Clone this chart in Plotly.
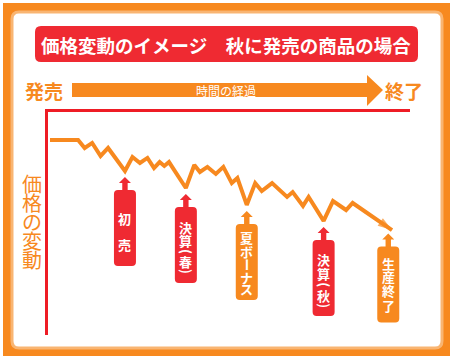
import numpy as np
import plotly.graph_objects as go

W, H = 454, 361

# ---------------- data ----------------
# time since launch (days) and price index (launch price = 100)
days = [0, 30, 37, 45, 54, 62, 80, 88, 96, 104, 111, 117, 122, 127, 145, 154, 160,
        168, 177, 185, 194, 200, 210, 219, 226, 237, 253, 259, 270, 276, 292, 302,
        316, 323, 365]
price = [100, 100, 95.9, 98.5, 91.8, 95.9, 84.1, 91.3, 88.2, 90.8, 85.6, 88.7, 86.7,
         88.7, 75.4, 87.2, 83.6, 86.2, 82.6, 86.2, 77.9, 80.5, 66.7, 77.9, 73.8, 77.9,
         70.8, 73.3, 66.2, 70.8, 58.5, 68.7, 64.1, 67.7, 53.8]

event_labels = ["初売", "決算(春)", "夏ボーナス", "決算(秋)", "生産終了"]
event_days = [80, 145, 210, 292, 361]
event_colors = ["red", "red", "orange", "red", "orange"]

title_text = "価格変動のイメージ　秋に発売の商品の場合"
start_label = "発売"
end_label = "終了"
time_label = "時間の経過"
price_label = "価格の変動"

# ---------------- styles ----------------
ORANGE = "#F7891F"
RED = "#EF2A32"
AXIS_RED = "#EE1C25"
PEACH = "#F9B572"
FONT = "Noto Sans CJK JP"
COLORS = {"red": RED, "orange": ORANGE}

# character offsets (px below callout box top) for vertical labels
char_offsets = {
    "初売": [28, 54],
    "決算(春)": [21, 34, 45, 55, 65],
    "夏ボーナス": [14, 28, 41, 54, 65],
    "決算(秋)": [20, 33.5, 45, 55.5, 66],
    "生産終了": [16.5, 29.5, 44, 59],
}
TIP_GAP, HEAD_H, SHAFT_H, BOX_H = 6, 6, 7, 76
HEAD_W, SHAFT_W, BOX_W, BOX_R = 6, 2.7, 11, 4


def pxx(x):
    return x / W


def pxy(y):
    return 1 - y / H


def rrect_paper(x0, y0, x1, y1, r):
    pts = [("M", [(x0 + r, y0)]), ("L", [(x1 - r, y0)]), ("Q", [(x1, y0), (x1, y0 + r)]),
           ("L", [(x1, y1 - r)]), ("Q", [(x1, y1), (x1 - r, y1)]), ("L", [(x0 + r, y1)]),
           ("Q", [(x0, y1), (x0, y1 - r)]), ("L", [(x0, y0 + r)]), ("Q", [(x0, y0), (x0 + r, y0)])]
    s = ""
    for cmd, ps in pts:
        s += cmd + " ".join(f"{pxx(a):.5f},{pxy(b):.5f}" for a, b in ps) + " "
    return s + "Z"


def poly_paper(points):
    return "M" + " L".join(f"{pxx(a):.5f},{pxy(b):.5f}" for a, b in points) + " Z"


def callout_path():
    t = -TIP_GAP
    hb = t - HEAD_H
    bt = hb - SHAFT_H
    bb = bt - BOX_H
    r = BOX_R
    return (f"M0,{t} L{HEAD_W},{hb} L{SHAFT_W},{hb} L{SHAFT_W},{bt} L{BOX_W - r},{bt} "
            f"Q{BOX_W},{bt} {BOX_W},{bt - r} L{BOX_W},{bb + r} Q{BOX_W},{bb} {BOX_W - r},{bb} "
            f"L{-BOX_W + r},{bb} Q{-BOX_W},{bb} {-BOX_W},{bb + r} L{-BOX_W},{bt - r} "
            f"Q{-BOX_W},{bt} {-BOX_W + r},{bt} L{-SHAFT_W},{bt} L{-SHAFT_W},{hb} L{-HEAD_W},{hb} Z")


fig = go.Figure()

n = len(days)
fig.add_trace(go.Scatter(
    x=days, y=price, mode="lines+markers",
    line=dict(color=ORANGE, width=4),
    marker=dict(symbol="arrow", angleref="previous", color=ORANGE,
                size=[0] * (n - 1) + [15], line=dict(width=0)),
    hoverinfo="skip", showlegend=False, cliponaxis=False,
))

shapes = []
# frame
shapes.append(dict(type="rect", xref="paper", yref="paper", x0=pxx(3), x1=pxx(450),
                   y0=pxy(356), y1=pxy(3), fillcolor=ORANGE, line=dict(width=0), layer="below"))
shapes.append(dict(type="path", xref="paper", yref="paper", path=rrect_paper(12, 12, 442, 348, 7),
                   fillcolor="white", line=dict(color=PEACH, width=3), layer="below"))
# title box
shapes.append(dict(type="path", xref="paper", yref="paper", path=rrect_paper(35, 26, 418, 62, 6),
                   fillcolor=RED, line=dict(width=0), layer="below"))
# time arrow
shapes.append(dict(type="path", xref="paper", yref="paper",
                   path=poly_paper([(72, 83), (367, 83), (367, 75), (383, 90), (367, 106),
                                    (367, 97), (72, 97)]),
                   fillcolor=ORANGE, line=dict(width=0), layer="below"))

annotations = []
annotations.append(dict(xref="paper", yref="paper", x=pxx(226), y=pxy(45), text=title_text,
                        showarrow=False, font=dict(family=FONT, size=18.5, color="white", weight="bold"),
                        xanchor="center", yanchor="middle"))
annotations.append(dict(xref="paper", yref="paper", x=pxx(226), y=pxy(90.5), text=time_label,
                        showarrow=False, font=dict(family=FONT, size=12, color="white"),
                        xanchor="center", yanchor="middle"))
annotations.append(dict(xref="paper", yref="paper", x=pxx(43.5), y=pxy(90), text=start_label,
                        showarrow=False, font=dict(family=FONT, size=19, color=ORANGE, weight="bold"),
                        xanchor="center", yanchor="middle"))
annotations.append(dict(xref="paper", yref="paper", x=pxx(404), y=pxy(90), text=end_label,
                        showarrow=False, font=dict(family=FONT, size=19, color=ORANGE, weight="bold"),
                        xanchor="center", yanchor="middle"))
for i, ch in enumerate(price_label):
    annotations.append(dict(xref="paper", yref="paper", x=pxx(32), y=pxy(183.5 + 18.9 * i), text=ch,
                            showarrow=False, font=dict(family=FONT, size=20, color=ORANGE),
                            xanchor="center", yanchor="middle"))

box_top = TIP_GAP + HEAD_H + SHAFT_H
for lab, d, c in zip(event_labels, event_days, event_colors):
    p = float(np.interp(d, days, price))
    shapes.append(dict(type="path", xref="x", yref="y", xsizemode="pixel", ysizemode="pixel",
                       xanchor=d, yanchor=p, path=callout_path(), fillcolor=COLORS[c],
                       line=dict(width=0)))
    for ch, off in zip(lab, char_offsets[lab]):
        rot = 90 if ch in "()ー" else 0
        annotations.append(dict(xref="x", yref="y", x=d, y=p, yshift=-(box_top + off),
                                text=ch, showarrow=False, textangle=rot,
                                font=dict(family=FONT, size=13, color="white", weight="bold"),
                                xanchor="center", yanchor="middle"))

fig.update_layout(
    width=W, height=H, autosize=False,
    margin=dict(l=0, r=0, t=0, b=0),
    paper_bgcolor="white", plot_bgcolor="rgba(0,0,0,0)",
    xaxis=dict(domain=[48 / W, 410 / W], range=[-2.13, 384.2], side="top",
               showline=True, linecolor=AXIS_RED, linewidth=3, showgrid=False,
               zeroline=False, showticklabels=False, ticks="", fixedrange=True),
    yaxis=dict(domain=[1 - 335 / H, 1 - 112 / H], range=[0, 114.36],
               showline=True, linecolor=AXIS_RED, linewidth=3, showgrid=False,
               zeroline=False, showticklabels=False, ticks="", fixedrange=True),
    shapes=shapes, annotations=annotations, showlegend=False,
)

fig.write_html("out.html", config={"displayModeBar": False, "staticPlot": True},
               post_script="document.body.style.margin='0';document.body.style.overflow='hidden';")
